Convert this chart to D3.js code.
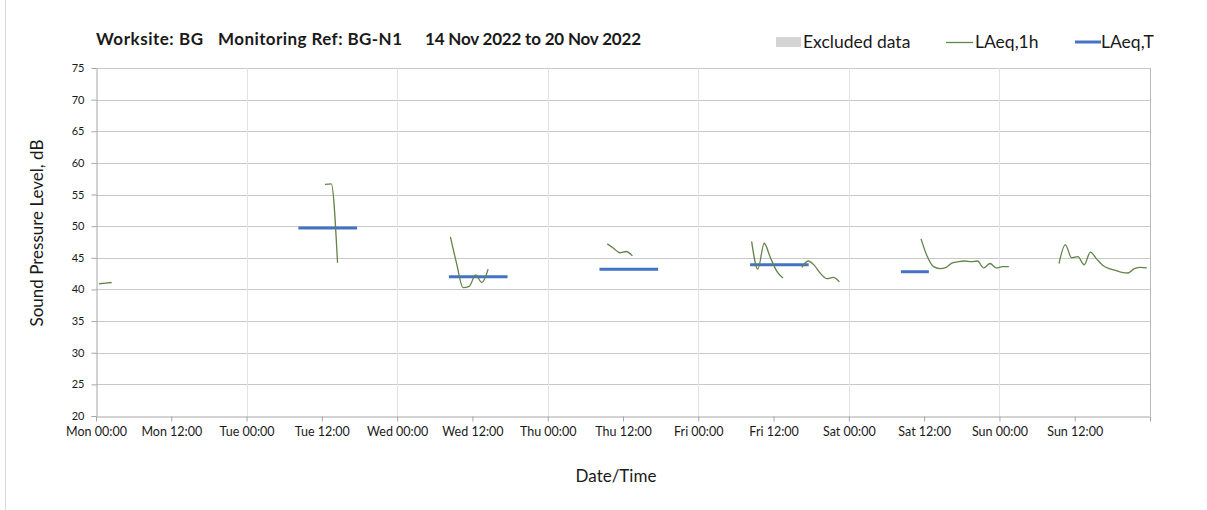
<!DOCTYPE html>
<html>
<head>
<meta charset="utf-8">
<script src="https://cdn.jsdelivr.net/npm/d3@7"></script>
<style>
  html, body { margin: 0; padding: 0; background: #fff; }
  svg { display: block; }
  text { font-family: Lato, "Open Sans", sans-serif; fill: #1a1a1a; }
</style>
</head>
<body>
<svg id="chart" width="1207" height="510"></svg>
<script>
// Hours are counted from Mon 14 Nov 2022 00:00.
const tickLabels = ["Mon 00:00", "Mon 12:00", "Tue 00:00", "Tue 12:00", "Wed 00:00", "Wed 12:00",
                    "Thu 00:00", "Thu 12:00", "Fri 00:00", "Fri 12:00", "Sat 00:00", "Sat 12:00",
                    "Sun 00:00", "Sun 12:00"];
const yTicks = [20, 25, 30, 35, 40, 45, 50, 55, 60, 65, 70, 75];

// LAeq,1h runs: first hour (mid-hour position) and hourly levels, dB
const hourlyStarts = [0.5, 36.5, 56.5, 81.5, 104.5, 131.5, 153.5];
const monLevels = [40.9, 41.0, 41.1];
const tueLevels = [56.6, 56.7, 44.2];
const wedLevels = [48.3, 44.0, 40.3, 40.5, 42.3, 41.1, 43.2];
const thuLevels = [47.2, 46.5, 45.8, 46.0, 45.3];
const friLevels = [47.6, 43.2, 47.3, 45.0, 42.9, 41.8, null, null, 43.5, 44.5, 43.8, 42.5, 41.7, 41.9, 41.2];
const satLevels = [48.0, 45.2, 43.6, 43.3, 43.5, 44.2, 44.4, 44.5, 44.4, 44.5, 43.4, 44.1, 43.4, 43.6, 43.6];
const sunLevels = [44.1, 47.1, 45.0, 45.2, 43.9, 45.9, 44.8, 43.8, 43.3, 43.0, 42.7, 42.6, 43.3, 43.5, 43.4];
const hourlyRuns = [monLevels, tueLevels, wedLevels, thuLevels, friLevels, satLevels, sunLevels];

// LAeq,T over each daytime period
const periodStart = [32.25, 56.25, 80.25, 104.25, 128.3];
const periodEnd   = [41.6, 65.6, 89.6, 113.6, 132.75];
const periodLevel = [49.7, 42.0, 43.2, 43.9, 42.8];

const svg = d3.select("#chart");
const x = d3.scaleLinear().domain([0, 168]).range([96, 1150]);
const y = d3.scaleLinear().domain([20, 75]).range([416, 68]);

// outer frame edge on the left
svg.append("line").attr("x1", 5.5).attr("x2", 5.5).attr("y1", 0).attr("y2", 510)
  .attr("stroke", "#d9d9d9").attr("stroke-width", 1);

// gridlines
svg.append("g").selectAll("line").data(yTicks.slice(1)).join("line")
  .attr("x1", x(0)).attr("x2", x(168))
  .attr("y1", d => Math.round(y(d)) + 0.5).attr("y2", d => Math.round(y(d)) + 0.5)
  .attr("stroke", "#c8c8c8").attr("stroke-width", 1);
svg.append("g").selectAll("line").data(d3.range(24, 169, 24)).join("line")
  .attr("x1", d => Math.round(x(d)) + 0.5).attr("x2", d => Math.round(x(d)) + 0.5)
  .attr("y1", y(75)).attr("y2", y(20))
  .attr("stroke", d => d === 168 ? "#b8b8b8" : "#e2e2e2").attr("stroke-width", 1);

// axes
const xAxis = d3.axisBottom(x)
  .tickValues(d3.range(0, 169, 12))
  .tickFormat((d, i) => tickLabels[i] || "")
  .tickSizeInner(5).tickSizeOuter(0).tickPadding(6);
const gx = svg.append("g").attr("transform", `translate(0,${Math.round(y(20)) + 0.5})`).call(xAxis);
gx.select(".domain").attr("stroke", "#a6a6a6");
gx.selectAll(".tick line").attr("stroke", "#a6a6a6");
gx.selectAll(".tick text").attr("font-size", 12.5).attr("fill", "#1a1a1a")
  .style("font-family", "Lato, sans-serif");

const yAxis = d3.axisLeft(y).tickValues(yTicks).tickFormat(d3.format("d"))
  .tickSizeInner(5).tickSizeOuter(0).tickPadding(7);
const gy = svg.append("g").attr("transform", `translate(${Math.round(x(0)) + 0.5},0)`).call(yAxis);
gy.select(".domain").attr("stroke", "#a6a6a6");
gy.selectAll(".tick line").attr("stroke", "#a6a6a6");
gy.selectAll(".tick text").attr("font-size", 11).attr("fill", "#1a1a1a")
  .style("font-family", "Lato, sans-serif");

// LAeq,T bars
svg.append("g").selectAll("line").data(periodLevel).join("line")
  .attr("x1", (d, i) => x(periodStart[i])).attr("x2", (d, i) => x(periodEnd[i]))
  .attr("y1", d => y(d)).attr("y2", d => y(d))
  .attr("stroke", "#4472c4").attr("stroke-width", 3);

// LAeq,1h lines
const line = d3.line()
  .defined(d => d.v != null)
  .x(d => x(d.t)).y(d => y(d.v))
  .curve(d3.curveMonotoneX);
svg.append("g").selectAll("path").data(hourlyRuns).join("path")
  .attr("d", (run, k) => line(run.map((v, i) => ({ t: hourlyStarts[k] + i, v }))))
  .attr("fill", "none").attr("stroke", "#62834a").attr("stroke-width", 1.3);

// title
const title = svg.append("g").attr("font-size", 17).attr("font-weight", "bold")
  .attr("lengthAdjust", "spacingAndGlyphs");
title.append("text").attr("x", 96).attr("y", 45).attr("textLength", 107).text("Worksite: BG");
title.append("text").attr("x", 218).attr("y", 45).attr("textLength", 184).text("Monitoring Ref: BG-N1");
title.append("text").attr("x", 425).attr("y", 45).attr("textLength", 216).text("14 Nov 2022 to 20 Nov 2022");

// legend
const lg = svg.append("g").attr("font-size", 17.5);
lg.append("rect").attr("x", 776).attr("y", 37).attr("width", 25).attr("height", 10).attr("fill", "#d4d4d4");
lg.append("text").attr("x", 803).attr("y", 48).text("Excluded data");
lg.append("line").attr("x1", 946).attr("x2", 973).attr("y1", 42.5).attr("y2", 42.5)
  .attr("stroke", "#62834a").attr("stroke-width", 1.3);
lg.append("text").attr("x", 975).attr("y", 48).text("LAeq,1h");
lg.append("line").attr("x1", 1075).attr("x2", 1101).attr("y1", 42).attr("y2", 42)
  .attr("stroke", "#4472c4").attr("stroke-width", 3);
lg.append("text").attr("x", 1101).attr("y", 48).text("LAeq,T");

// axis titles
svg.append("text").attr("transform", "translate(43,233) rotate(-90)")
  .attr("text-anchor", "middle").attr("font-size", 17).text("Sound Pressure Level, dB");
svg.append("text").attr("x", 616).attr("y", 482).attr("text-anchor", "middle")
  .attr("font-size", 17).text("Date/Time");
</script>
</body>
</html>
